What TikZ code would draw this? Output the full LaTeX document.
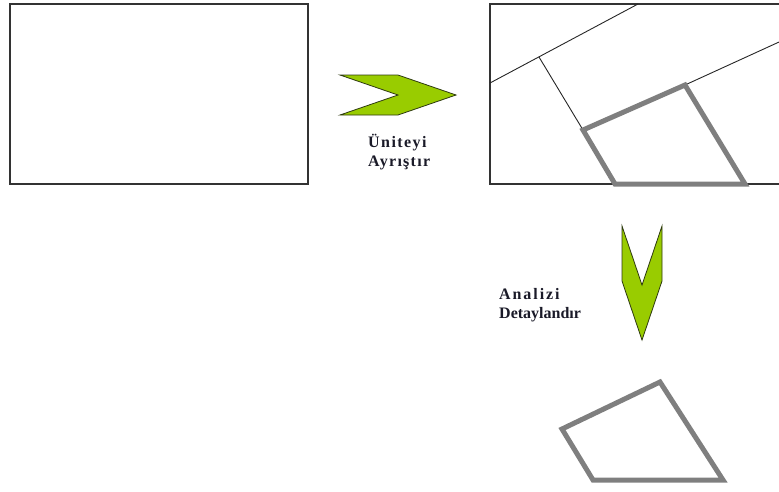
\documentclass[tikz,border=0pt]{standalone}
\usepackage{fontspec}
\setmainfont{Liberation Serif}
\definecolor{chevgreen}{HTML}{99CC00}
\definecolor{chevedge}{HTML}{2E3A10}
\definecolor{labelcol}{HTML}{1A1A28}
\definecolor{quadgray}{HTML}{7F7F7F}
\newcommand{\trk}[2]{{\addfontfeature{LetterSpace=#1}#2}}
\begin{document}
\begin{tikzpicture}[x=1pt,y=-1pt,
  frame/.style={draw=black!80, line width=1.3pt},
  divline/.style={draw=black!85, line width=0.9pt},
  quad/.style={draw=quadgray, line width=5pt, line join=miter},
  chev/.style={fill=chevgreen, draw=chevedge, line width=0.8pt, line join=miter},
  lbl/.style={font=\bfseries\fontsize{16}{19}\selectfont, text=labelcol, align=left, inner sep=0pt, anchor=base west}]
\useasboundingbox (0,0) rectangle (779,491);
\clip (0,0) rectangle (779,491);
% left unit
\draw[frame] (10,4) rectangle (308,184);
% right decomposed unit
\coordinate (rtr) at (790,4);
\coordinate (rtl) at (490,4);
\coordinate (rbl) at (490,184);
\coordinate (rbr) at (790,184);
\draw[frame] (rtr) -- (rtl) -- (rbl) -- (rbr);
\coordinate (a1) at (490,83);
\coordinate (a2) at (638,4);
\coordinate (b1) at (539,57);
\coordinate (q1) at (583,130);
\coordinate (q2) at (685,85);
\coordinate (q3) at (745,184);
\coordinate (q4) at (615,184);
\coordinate (c2) at (790,37);
\draw[divline] (a1) -- (a2);
\draw[divline] (b1) -- (q1);
\draw[divline] (q2) -- (c2);
\draw[quad] (q1) -- (q2) -- (q3) -- (q4) -- cycle;
% detailed part
\coordinate (p1) at (562,429);
\coordinate (p2) at (660,382);
\coordinate (p3) at (723,480);
\coordinate (p4) at (593,480);
\draw[quad] (p1) -- (p2) -- (p3) -- (p4) -- cycle;
% chevrons
\draw[chev] (340,75) -- (398,75) -- (456,95) -- (398,115) -- (340,115) -- (398,95) -- cycle;
\draw[chev] (622,226) -- (642,285) -- (662,226) -- (662,281) -- (642,340) -- (622,281) -- cycle;
% labels
\node[lbl] (l1) at (368,166) {\trk{9}{Üniteyi}\\\trk{8}{Ayrıştır}};
\node[lbl] (l2) at (499,318) {\trk{12}{Analizi}\\Detaylandır};
\end{tikzpicture}
\end{document}
